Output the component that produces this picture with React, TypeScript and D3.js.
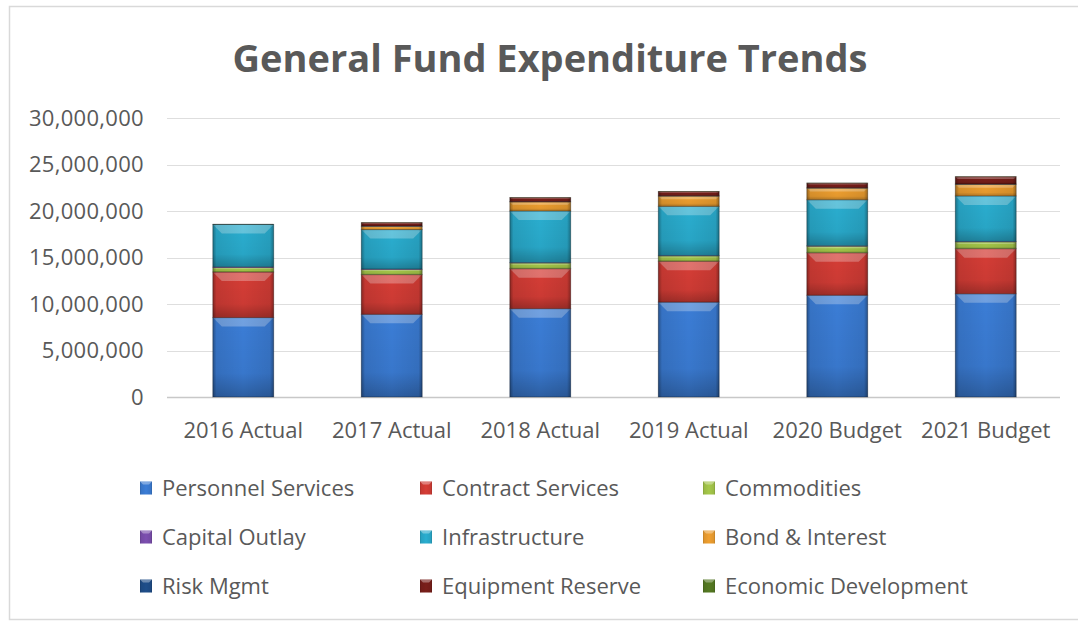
import React, { useEffect } from "react";
import * as d3 from "d3";

const categories = ["2016 Actual", "2017 Actual", "2018 Actual", "2019 Actual", "2020 Budget", "2021 Budget"];
const seriesNames = [
  "Personnel Services",
  "Contract Services",
  "Commodities",
  "Capital Outlay",
  "Infrastructure",
  "Bond & Interest",
  "Risk Mgmt",
  "Equipment Reserve",
  "Economic Development",
];
const personnel = [8540000, 8890000, 9500000, 10200000, 10940000, 11100000];
const contract = [4900000, 4270000, 4300000, 4400000, 4570000, 4850000];
const commodities = [470000, 540000, 600000, 560000, 700000, 720000];
const capitalOutlay = [80000, 60000, 60000, 60000, 60000, 60000];
const infrastructure = [4560000, 4240000, 5540000, 5280000, 4940000, 4890000];
const bondInterest = [0, 350000, 970000, 1100000, 1250000, 1250000];
const riskMgmt = [30000, 30000, 30000, 30000, 30000, 30000];
const equipmentReserve = [0, 370000, 450000, 470000, 510000, 790000];
const economicDev = [20000, 20000, 20000, 20000, 20000, 20000];
const yTicks = [0, 5000000, 10000000, 15000000, 20000000, 25000000, 30000000];
const colors = ["#3b7dd6", "#d63d36", "#a6c94a", "#7d4fb0", "#2aaed0", "#f0a030", "#1f4e8a", "#7a1f1a", "#557a22"];

const seriesValues = [personnel, contract, commodities, capitalOutlay, infrastructure, bondInterest, riskMgmt, equipmentReserve, economicDev];

const W = 1078;
const H = 622;
const FONT = "'Open Sans', sans-serif";
const TEXT = "#595959";

export default function App() {
  useEffect(() => {
    document.body.style.margin = "0";
  }, []);

  const rows = categories.map((c, i) => {
    const r: any = { cat: c };
    seriesNames.forEach((s, j) => (r[s] = seriesValues[j][i]));
    return r;
  });
  const stacked = d3.stack<any>().keys(seriesNames)(rows);

  const x = d3.scaleBand().domain(categories).range([169, 1060]).paddingInner(0.59).paddingOuter(0.295);
  const y = d3.scaleLinear().domain([0, 30000000]).range([397, 118]);
  const fmt = d3.format(",");

  const legendCols = [140, 420, 703];
  const legendRows = [488, 537, 586];

  return (
    <svg width={W} height={H} style={{ display: "block", background: "#fff" }} fontFamily={FONT}>
      <defs>
        <linearGradient id="hEdge" x1="0" x2="1" y1="0" y2="0">
          <stop offset="0" stopColor="#000" stopOpacity="0.35" />
          <stop offset="0.06" stopColor="#000" stopOpacity="0.08" />
          <stop offset="0.5" stopColor="#000" stopOpacity="0" />
          <stop offset="0.94" stopColor="#000" stopOpacity="0.08" />
          <stop offset="1" stopColor="#000" stopOpacity="0.35" />
        </linearGradient>
        <linearGradient id="vShade" x1="0" x2="0" y1="0" y2="1">
          <stop offset="0" stopColor="#000" stopOpacity="0" />
          <stop offset="0.7" stopColor="#000" stopOpacity="0.05" />
          <stop offset="1" stopColor="#000" stopOpacity="0.25" />
        </linearGradient>
      </defs>
      <rect x={9.5} y={6.5} width={1090} height={613} fill="none" stroke="#d9d9d9" strokeWidth={1.5} />
      <text x={550} y={72} textAnchor="middle" fontSize={38} fontWeight={700} fill={TEXT}>
        General Fund Expenditure Trends
      </text>
      {yTicks.map((t) => (
        <g key={t}>
          <line x1={167} x2={1060} y1={Math.round(y(t)) + 0.5} y2={Math.round(y(t)) + 0.5} stroke={t === 0 ? "#c8c8c8" : "#dedede"} strokeWidth={t === 0 ? 1.5 : 1} />
          <text x={144} y={y(t)} dy="0.36em" textAnchor="end" fontSize={22} letterSpacing={0.3} fill={TEXT}>
            {fmt(t)}
          </text>
        </g>
      ))}
      {stacked.map((layer, si) =>
        layer.map((d, ci) => {
          const x0 = x(categories[ci])!;
          const w = x.bandwidth();
          const y0 = y(d[1]);
          const h = y(d[0]) - y(d[1]);
          if (h <= 0.05) return null;
          const b = Math.min(9, h * 0.3);
          return (
            <g key={`${si}-${ci}`}>
              <rect x={x0} y={y0} width={w} height={h} fill={colors[si]} />
              <rect x={x0} y={y0} width={w} height={h} fill="url(#vShade)" />
              <polygon
                points={`${x0},${y0} ${x0 + w},${y0} ${x0 + w - b},${y0 + b} ${x0 + b},${y0 + b}`}
                fill="#fff"
                fillOpacity={0.28}
              />
              <rect x={x0} y={y0} width={w} height={h} fill="url(#hEdge)" />
              <rect x={x0} y={y0} width={w} height={h} fill="none" stroke="#000" strokeOpacity={0.3} strokeWidth={h > 2 ? 1 : 0.5} />
            </g>
          );
        })
      )}
      {categories.map((c) => (
        <text key={c} x={x(c)! + x.bandwidth() / 2} y={438} textAnchor="middle" fontSize={22} fill={TEXT}>
          {c}
        </text>
      ))}
      {seriesNames.map((s, i) => {
        const lx = legendCols[i % 3];
        const ly = legendRows[Math.floor(i / 3)];
        return (
          <g key={s}>
            <rect x={lx} y={ly - 6.5} width={12} height={13} fill={colors[i]} />
            <rect x={lx} y={ly - 6.5} width={12} height={13} fill="url(#hEdge)" />
            <polygon points={`${lx},${ly - 6.5} ${lx + 12},${ly - 6.5} ${lx + 9},${ly - 3.5} ${lx + 3},${ly - 3.5}`} fill="#fff" fillOpacity={0.35} />
            <text x={lx + 22} y={ly} dy="0.36em" fontSize={22} fill={TEXT}>
              {s}
            </text>
          </g>
        );
      })}
    </svg>
  );
}
